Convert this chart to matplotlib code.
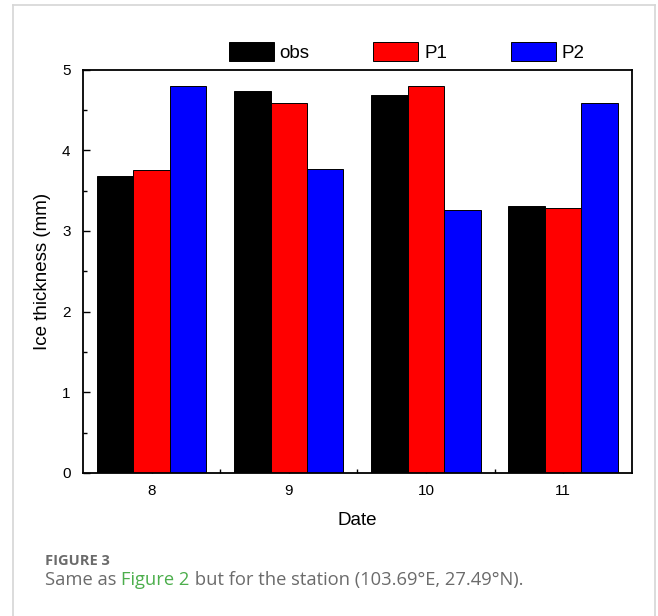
import matplotlib
matplotlib.use("Agg")
import matplotlib.pyplot as plt
from matplotlib.lines import Line2D
import numpy as np

dates = [8, 9, 10, 11]
obs = [3.68, 4.73, 4.69, 3.31]
p1 = [3.75, 4.59, 4.80, 3.28]
p2 = [4.80, 3.77, 3.26, 4.58]
series_names = ["obs", "P1", "P2"]
series_colors = ["#000000", "#ff0000", "#0000ff"]

plt.rcParams['font.family'] = ['Liberation Sans', 'DejaVu Sans']

W, H = 658, 616
fig = plt.figure(figsize=(W / 100, H / 100), dpi=100)
ax = fig.add_axes([83 / W, 1 - 473 / H, (631.7 - 83) / W, (473 - 69.5) / H])

x = np.array(dates, dtype=float)
width = 0.266
for i, (vals, name, col) in enumerate(zip([obs, p1, p2], series_names, series_colors)):
    ax.bar(x + (i - 1) * width, vals, width, color=col, edgecolor="black",
           linewidth=0.7, label=name, zorder=2)

ax.set_xlim(7.5, 11.5)
ax.set_ylim(0, 5)
ax.set_xticks(dates)
ax.set_xticks([8.5, 9.5, 10.5], minor=True)
ax.set_yticks(range(6))
ax.set_yticks(np.arange(0.5, 5, 1.0), minor=True)
ax.tick_params(which="both", direction="in", labelsize=11, width=1.0)
ax.tick_params(which="major", length=5)
ax.tick_params(axis="x", which="major", pad=8)
ax.tick_params(axis="y", which="major", pad=9)
ax.tick_params(which="minor", length=3)
for s in ax.spines.values():
    s.set_linewidth(1.3)

ax.set_xlabel("Date", fontsize=13.5, labelpad=10)
ax.set_ylabel("Ice thickness (mm)", fontsize=13.5, labelpad=8)

leg = ax.legend(ncol=3, loc="lower left", frameon=False, fontsize=13.5,
                bbox_to_anchor=(229 / W, 1 - 62 / H), bbox_transform=fig.transFigure,
                borderpad=0, borderaxespad=0, handlelength=2.4, handleheight=1.17,
                handletextpad=0.3, columnspacing=3.4)

# light page frame
frame_col = "#d6d6d6"
fig.add_artist(Line2D([13 / W, 13 / W], [0, 1 - 5 / H], color=frame_col, lw=1.2))
fig.add_artist(Line2D([655 / W, 655 / W], [0, 1 - 5 / H], color=frame_col, lw=1.2))
fig.add_artist(Line2D([13 / W, 655 / W], [1 - 5 / H, 1 - 5 / H], color=frame_col, lw=1.2))

# caption
cap_font = ['Open Sans', 'DejaVu Sans']
fig.text(45 / W, 1 - 561 / H, "FIGURE 3", fontsize=10.5, fontweight="bold",
         color="#6b6b6b", family=cap_font, va="center")
fig.canvas.draw()
r = fig.canvas.get_renderer()
xpos = 45
cy = 1 - 580 / H
for txt, col in [("Same as ", "#6b6b6b"), ("Figure 2", "#4cae4c"),
                 (" but for the station (103.69°E, 27.49°N).", "#6b6b6b")]:
    t = fig.text(xpos / W, cy, txt, fontsize=13.2, color=col, family=cap_font, va="center")
    bb = t.get_window_extent(r)
    xpos += bb.width

fig.savefig("out.png", dpi=100)
